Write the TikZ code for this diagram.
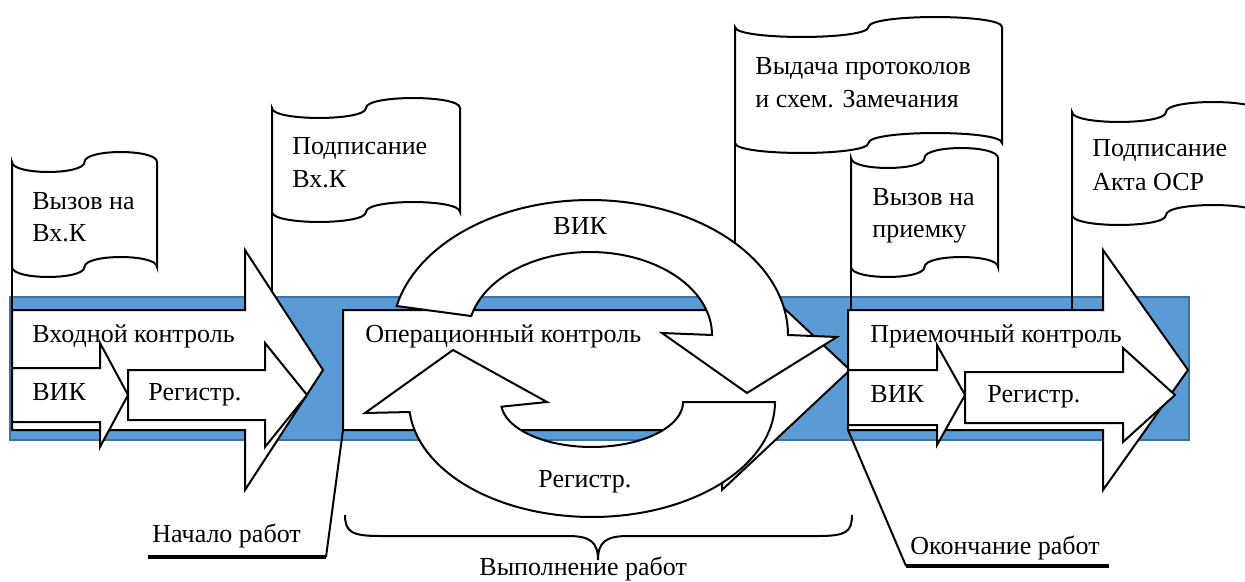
\documentclass[tikz,border=0pt]{standalone}
\usepackage{fontspec}
\setmainfont{Liberation Serif}
\definecolor{bandfill}{HTML}{5B9BD5}
\definecolor{bandline}{HTML}{41719C}
\tikzset{
  shp/.style={draw=black, fill=white, line width=1pt, line join=miter},
  band/.style={draw=bandline, fill=bandfill, line width=1.2pt},
  pole/.style={draw=black, line width=1.4pt},
  lbl/.style={font=\fontsize{13}{15.6}\selectfont, inner sep=0pt, anchor=base west},
  callout/.style={draw=black, line width=1pt},
  underln/.style={draw=black, line width=1.6pt},
}
% flag: x0, y0 (top peak), width, height
\newcommand\drawflag[4]{%
  \draw[shp] ({#1},{#2+10}) .. controls ({#1},{#2+23.3}) and ({#1+#3/2},{#2+23.3}) .. ({#1+#3/2},{#2+10})
    .. controls ({#1+#3/2},{#2-3.3}) and ({#1+#3},{#2-3.3}) .. ({#1+#3},{#2+10})
    -- ({#1+#3},{#2+#4-10})
    .. controls ({#1+#3},{#2+#4-23.3}) and ({#1+#3/2},{#2+#4-23.3}) .. ({#1+#3/2},{#2+#4-10})
    .. controls ({#1+#3/2},{#2+#4+3.3}) and ({#1},{#2+#4+3.3}) .. ({#1},{#2+#4-10}) -- cycle;}
% big arrow: x0, x1 (head base), xt (tip)
\newcommand\bigarrow[3]{%
  \draw[shp] (#1,310) -- (#2,310) -- (#2,250) -- (#3,370) -- (#2,490) -- (#2,430) -- (#1,430) -- cycle;}
% small arrow: x0, x1, body top, body bottom, head top, head bottom, tip x
\newcommand\smallarrow[7]{%
  \draw[shp] (#1,#3) -- (#2,#3) -- (#2,#5) -- (#7,395) -- (#2,#6) -- (#2,#4) -- (#1,#4) -- cycle;}
\begin{document}
\begin{tikzpicture}[x=0.5pt,y=-0.5pt]
\useasboundingbox (0,0) rectangle (1245,582);
\clip (0,0) rectangle (1245,582);
% band
\draw[band] (10,297) rectangle (1189,440);
% flag poles
\draw[pole] (12,267) -- (12,310);
\draw[pole] (272,212) -- (272,296);
\draw[pole] (735,143) -- (735,290);
\draw[pole] (851,267) -- (851,310);
\draw[pole] (1072,215) -- (1072,310);
% flags
\drawflag{12}{152}{145}{125}
\drawflag{272}{98}{188}{124}
\drawflag{735}{17}{267}{136}
\drawflag{851}{148}{147}{129}
\drawflag{1072}{102}{188}{123}
% big arrows
\bigarrow{12}{245}{323}
\bigarrow{343}{722}{850}
\bigarrow{848}{1103}{1188}
% small arrows
\smallarrow{12}{100}{368}{422}{343}{447}{128}
\smallarrow{128}{265}{370}{420}{343}{447}{307}
\smallarrow{848}{937}{370}{425}{345}{445}{965}
\smallarrow{965}{1123}{372}{423}{348}{442}{1175}
% circular arrow top (VIK)
\draw[shp] plot[domain=0:167.6, samples=70] ({590+198*cos(167.6-\x)}, {335-135*sin(167.6-\x)})
  -- (837,337) -- (747,393) -- (662,333)
  -- plot[domain=0:166.8, samples=70] ({590+122*cos(\x)}, {335-83*sin(\x)}) -- cycle;
% circular arrow bottom (Registr)
\draw[shp] (683,402) -- plot[domain=0:175, samples=70] ({592+183*cos(\x)}, {402+115*sin(\x)})
  -- (365,413) -- (453,350) -- (547,402)
  -- plot[domain=0:174, samples=70] ({592+91*cos(\x-174)}, {402-45*sin(\x-174)}) -- cycle;
% callouts
\coordinate (c1s) at (343,430);
\coordinate (c1k) at (326,557);
\coordinate (c1e) at (148,557);
\coordinate (c2s) at (848,430);
\coordinate (c2k) at (906,566);
\coordinate (c2e) at (1109,566);
\draw[callout] (c1s) -- (c1k);
\draw[underln] (c1e) -- (c1k);
\draw[callout] (c2s) -- (c2k);
\draw[underln] (c2k) -- (c2e);
% brace
\draw[callout] (345,515) .. controls (345,532) and (352,536) .. (380,536) -- (568,536)
  .. controls (590,536) and (598,542) .. (598,560)
  .. controls (598,542) and (606,536) .. (628,536) -- (818,536)
  .. controls (846,536) and (852,532) .. (852,515);
% labels
\node[lbl] (t1a) at (32,210) {Вызов на};
\node[lbl] (t1b) at (32,242) {Вх.К};
\node[lbl] (t2a) at (292,155) {Подписание};
\node[lbl] (t2b) at (292,188) {Вх.К};
\node[lbl] (t3a) at (755,75) {Выдача протоколов};
\node[lbl] (t3b) at (755,108) {и схем. Замечания};
\node[lbl] (t4a) at (872,206) {Вызов на};
\node[lbl] (t4b) at (872,238) {приемку};
\node[lbl] (t5a) at (1092,157) {Подписание};
\node[lbl] (t5b) at (1092,191) {Акта ОСР};
\node[lbl] (k1) at (32,343) {Входной контроль};
\node[lbl] (v1) at (32,400) {ВИК};
\node[lbl] (r1) at (148,400) {Регистр.};
\node[lbl] (k2) at (365,343) {Операционный контроль};
\node[lbl] (v2) at (553,235) {ВИК};
\node[lbl] (r2) at (538,487) {Регистр.};
\node[lbl] (k3) at (870,342) {Приемочный контроль};
\node[lbl] (v3) at (870,402) {ВИК};
\node[lbl] (r3) at (987,402) {Регистр.};
\node[lbl] (n1) at (152,542) {Начало работ};
\node[lbl] (n2) at (479,575) {Выполнение работ};
\node[lbl] (n3) at (910,554) {Окончание работ};
\end{tikzpicture}
\end{document}
